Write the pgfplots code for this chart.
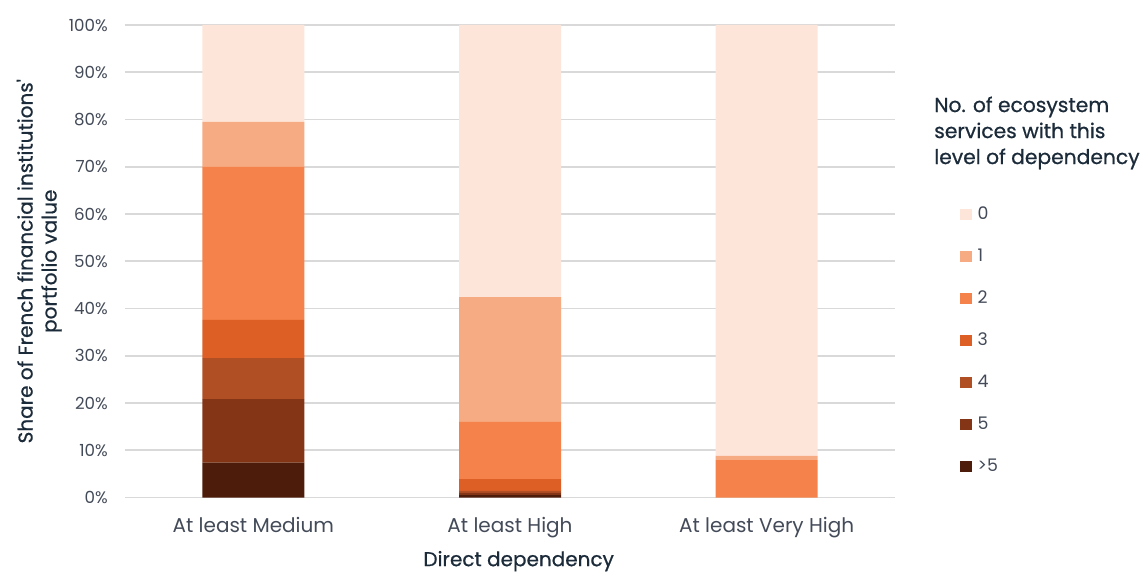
\documentclass[border=0pt]{standalone}
\usepackage{fontspec}
\setmainfont{Poppins}
\newfontfamily\medfont{Poppins}[FakeBold=0.7]
\usepackage{pgfplots}
\pgfplotsset{compat=1.18}
\definecolor{c0}{HTML}{FEE5D9}
\definecolor{c1}{HTML}{F7AB83}
\definecolor{c2}{HTML}{F4824A}
\definecolor{c3}{HTML}{DD5F26}
\definecolor{c4}{HTML}{B04F24}
\definecolor{c5}{HTML}{843516}
\definecolor{c6}{HTML}{4E1C0A}
\definecolor{gridc}{HTML}{D9D9D9}
\definecolor{tickc}{HTML}{434A58}
\definecolor{titlec}{HTML}{1C2B3A}
\pgfplotsset{sq legend/.style={legend image code/.code={\fill[##1] (0pt,-4.3pt) rectangle (9pt,4.3pt);}}}
\begin{document}
\begin{tikzpicture}
\useasboundingbox (-93.75pt,-55.875pt) rectangle (762.75pt,373.125pt);
\begin{axis}[
  at={(0,0)}, anchor=south west,
  scale only axis, width=577.5pt, height=354.375pt,
  xmin=-0.5, xmax=2.5, ymin=0, ymax=100,
  ybar stacked, bar width=76.5pt,
  xtick={0,1,2},
  xticklabels={At least Medium, At least High, At least Very High},
  ytick={0,10,...,100},
  yticklabel={\pgfmathprintnumber{\tick}\%},
  /pgf/number format/assume math mode=true,
  ymajorgrids, grid style={draw=gridc, line width=1.2pt},
  axis line style={draw=none},
  major tick length=0pt,
  tick label style={text=tickc},
  yticklabel style={font=\fontsize{12.5}{15}\selectfont, anchor=east, inner sep=0pt, xshift=-12.75pt},
  xticklabel style={font=\fontsize{15}{18}\selectfont, anchor=base, inner sep=0pt, yshift=-26pt},
  xlabel={Direct dependency},
  xlabel style={at={(axis description cs:0.5,0)}, anchor=base, inner sep=0pt, yshift=-51.5pt, xshift=6.5pt, font=\medfont\fontsize{15}{18}\selectfont, text=titlec},
  ylabel={Share of French financial institutions\textquotesingle\\portfolio value},
  ylabel style={at={(axis description cs:-0.0818,0.5)}, anchor=south, inner sep=0pt, align=center, font=\medfont\fontsize{15}{18}\selectfont, text=titlec},
  reverse legend,
  legend cell align=left,
  legend style={at={(rel axis cs:1.0844,0.6116)}, anchor=north west, draw=none, fill=none, inner sep=0pt, outer sep=0pt, row sep=22.9pt, font=\fontsize{13}{15}\selectfont, text=tickc, nodes={inner sep=0pt, text height=8.6pt, text depth=0pt}, /tikz/every odd column/.style={column sep=4.3pt}},
]
\addplot[fill=c6, draw=none, sq legend] coordinates {(0,7.4) (1,0.5) (2,0)};
\addlegendentry{>5}
\addplot[fill=c5, draw=none, sq legend] coordinates {(0,13.4) (1,0.5) (2,0)};
\addlegendentry{5}
\addplot[fill=c4, draw=none, sq legend] coordinates {(0,8.7) (1,0.4) (2,0)};
\addlegendentry{4}
\addplot[fill=c3, draw=none, sq legend] coordinates {(0,8.1) (1,2.5) (2,0)};
\addlegendentry{3}
\addplot[fill=c2, draw=none, sq legend] coordinates {(0,32.4) (1,12.1) (2,7.9)};
\addlegendentry{2}
\addplot[fill=c1, draw=none, sq legend] coordinates {(0,9.5) (1,26.4) (2,0.9)};
\addlegendentry{1}
\addplot[fill=c0, draw=none, sq legend] coordinates {(0,20.5) (1,57.6) (2,91.2)};
\addlegendentry{0}
\end{axis}
\node[anchor=base west, align=left, inner sep=0pt, font=\medfont\fontsize{15.2}{19.5}\selectfont, text=titlec] at (606.75pt,250.1pt) {No. of ecosystem\\services with this\\level of dependency};
\end{tikzpicture}
\end{document}
